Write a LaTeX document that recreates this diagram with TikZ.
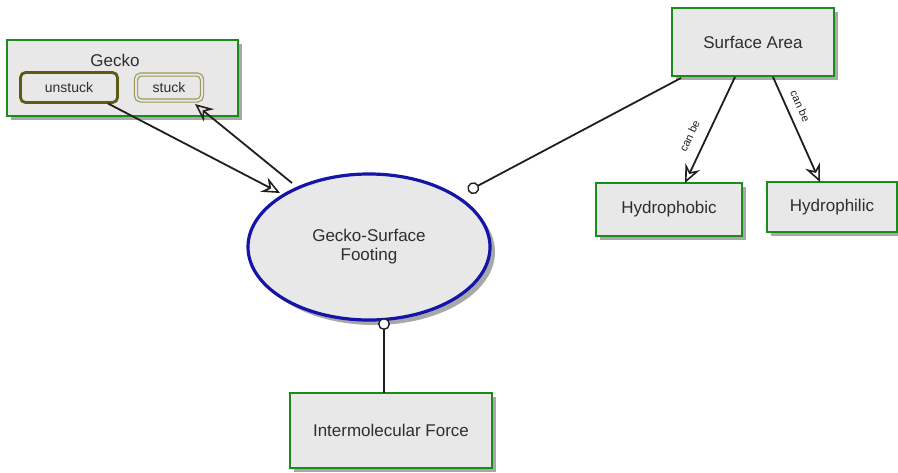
\documentclass[tikz,border=0pt]{standalone}
\usepackage{fontspec}
\setmainfont{Liberation Sans}
\usetikzlibrary{arrows.meta,shapes.geometric,shadows}
\definecolor{boxfill}{HTML}{E8E8E8}
\definecolor{boxgreen}{HTML}{1A8C1A}
\definecolor{ovalblue}{HTML}{1414A8}
\definecolor{darkolive}{HTML}{5C5A14}
\definecolor{lightolive}{HTML}{9C9A58}
\definecolor{shadowgray}{HTML}{A8A8A8}
\tikzset{
  concept/.style={draw=boxgreen, line width=2.4pt, fill=boxfill, minimum height=#1,
    drop shadow={shadow xshift=4pt, shadow yshift=-4pt, fill=shadowgray, opacity=1},
    inner sep=0pt, font=\fontsize{17}{19}\selectfont\color{black!82}},
  concept/.default=53pt,
  statebox/.style={rounded corners=5pt, fill=boxfill, minimum height=30pt, inner sep=0pt,
    font=\fontsize{14}{16}\selectfont\color{black!82}},
  link/.style={line width=1.8pt, black!88},
  opentip/.style={-{Stealth[open, length=18pt, width=16pt, inset=6pt, line width=1.6pt]}},
  dot/.style={-{Circle[open, length=12pt, width=12pt, line width=1.4pt, fill=white]}},
  canlabel/.style={font=\fontsize{11}{12}\selectfont\color{black!85}, sloped, inner sep=0pt}
}
\begin{document}
\begin{tikzpicture}[x=1pt, y=-1pt]
  \useasboundingbox (0,0) rectangle (898,472);

  % Gecko container with its two states
  \node[concept, minimum width=231pt, minimum height=76pt] (gecko) at (122.5,78) {};
  \node[font=\fontsize{17}{19}\selectfont\color{black!82}] (geckolabel) at (115,60) {Gecko};
  \node[statebox, draw=darkolive, line width=2.8pt, minimum width=97pt] (unstuck) at (69,87.5) {unstuck};
  \node[statebox, draw=lightolive, double=boxfill, double distance=2pt, line width=1.2pt,
        minimum width=66pt, minimum height=26pt] (stuck) at (169,87.5) {stuck};

  % central process oval
  \node[ellipse, draw=ovalblue, line width=3.2pt, fill=boxfill, minimum width=242pt, minimum height=146pt,
        drop shadow={shadow xshift=5pt, shadow yshift=-5pt, fill=shadowgray, opacity=1},
        align=center, font=\fontsize{17}{19}\selectfont\color{black!82}] (footing) at (369,247)
        {Gecko-Surface\\Footing};

  % surrounding concepts
  \node[concept=68pt, minimum width=162pt] (area) at (753,42) {Surface Area};
  \node[concept, minimum width=146pt] (phobic) at (669,209.5) {Hydrophobic};
  \node[concept=50pt, minimum width=130pt] (philic) at (832,207) {Hydrophilic};
  \node[concept=75pt, minimum width=202pt] (force) at (391,430.5) {Intermolecular Force};

  % transitions between gecko states through the footing
  \coordinate (unstuckfoot) at (108,103.5);
  \coordinate (footin) at (280,193);
  \coordinate (footout) at (292,183);
  \coordinate (stuckfoot) at (195,104);
  \draw[link, opentip] (unstuckfoot) -- (footin);
  \draw[link, opentip] (footout) -- (stuckfoot);

  % associations
  \coordinate (areafoot) at (681,78);
  \coordinate (footarea) at (468,191);
  \draw[link, dot] (areafoot) -- (footarea);
  \coordinate (forcetop) at (384,393);
  \coordinate (footbottom) at (384,318);
  \draw[link, dot] (forcetop) -- (footbottom);

  % "can be" relations
  \coordinate (areaA) at (735,77);
  \coordinate (phobictop) at (685,183);
  \coordinate (areaB) at (773,77);
  \coordinate (philictop) at (820,182);
  \draw[link, opentip] (areaA) -- node[canlabel, above=11pt, pos=0.62] (canbeA) {can be} (phobictop);
  \draw[link, opentip] (areaB) -- node[canlabel, above=8pt, pos=0.33] (canbeB) {can be} (philictop);
\end{tikzpicture}
\end{document}
